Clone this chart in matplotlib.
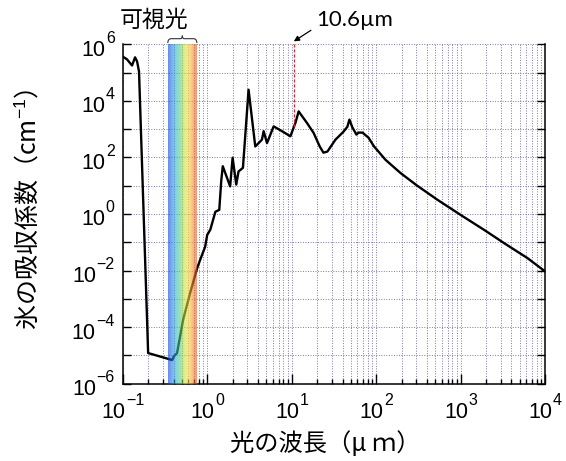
import matplotlib

matplotlib.use("Agg")
import matplotlib.pyplot as plt
import numpy as np
from matplotlib.colors import LinearSegmentedColormap
from matplotlib.path import Path
from matplotlib.patches import PathPatch
from matplotlib.ticker import FixedLocator, NullFormatter
from matplotlib.transforms import offset_copy

# wavelength [um] and absorption coefficient of ice [cm^-1]
WAVELENGTH_UM = [
    0.100, 0.112, 0.129, 0.140, 0.148, 0.156, 0.200, 0.385, 0.405, 0.44,
    0.519, 0.628, 0.760, 0.826, 0.946, 1.00, 1.09, 1.25, 1.39, 1.47,
    1.53, 1.87, 2.00, 2.21, 2.35, 2.65, 3.09, 3.71, 4.45, 4.66,
    5.11, 6.12, 7.70, 9.66, 11.1, 12.1, 15.2, 18.2, 21.5, 23.8,
    26.5, 33.0, 41.0, 45.7, 48.3, 52.4, 58.5, 61.8, 69.0, 81.3,
    94.0, 129, 195, 307, 531, 1000, 1896, 3275, 6194, 10000,
]
ABSORPTION = [
    3.7e5, 3.0e5, 1.8e5, 3.5e5, 2.5e5, 1.1e5, 1.2e-5, 6.8e-6, 9.3e-6, 1.2e-5,
    1.8e-4, 1.6e-3, 1.2e-2, 2.4e-2, 6.9e-2, 0.18, 0.28, 1.2, 1.4, 16,
    49, 9.5, 98, 11, 32, 43, 2.5e4, 245, 427, 851,
    324, 1260, 851, 562, 1700, 4270, 1660, 741, 245, 148,
    162, 427, 813, 1230, 2190, 1150, 646, 759, 759, 501,
    251, 83, 28, 10, 3.2, 0.93, 0.275, 0.093, 0.0275, 0.0093,
]

VISIBLE_RANGE_UM = (0.342, 0.755)
VISIBLE_COLORS = ["#0040d8", "#2a7fe8", "#30bac8", "#58d070", "#c8e040",
                  "#f8d838", "#f89030", "#e85a20"]
CO2_LASER_UM = 10.6

X_EXPONENTS = np.arange(-1, 5)
Y_EXPONENTS = np.arange(-6, 7)
Y_LABELED = Y_EXPONENTS[::2]

GRID_COLOR = "#7878b8"
GRID_STYLE = (0, (1.0, 1.6))
TICK_FONT = "Liberation Sans"
BASE_SIZE = 15.5
EXP_SIZE = 11.5


def _text_width_px(fig, renderer, text, size):
    t = fig.text(0, 0, text, fontsize=size, family=TICK_FONT)
    w = t.get_window_extent(renderer).width
    t.remove()
    return w


def _exp_text(e):
    return str(e).replace("-", "\u2212")


def _draw_log_labels(fig, ax):
    renderer = fig.canvas.get_renderer()
    w_base = _text_width_px(fig, renderer, "10", BASE_SIZE)
    xtr = ax.get_xaxis_transform()
    ytr = ax.get_yaxis_transform()
    for e in X_EXPONENTS:
        et = _exp_text(e)
        w_exp = _text_width_px(fig, renderer, et, EXP_SIZE)
        left = -(w_base + w_exp) / 2.0
        ax.text(10.0 ** e, 0, "10", fontsize=BASE_SIZE, family=TICK_FONT,
                ha="left", va="center", clip_on=False,
                transform=offset_copy(xtr, fig, x=left, y=-28.5, units="dots"))
        ax.text(10.0 ** e, 0, et, fontsize=EXP_SIZE, family=TICK_FONT,
                ha="left", va="center", clip_on=False,
                transform=offset_copy(xtr, fig, x=left + w_base + 0.5, y=-17.0, units="dots"))
    for e in Y_LABELED:
        et = _exp_text(e)
        w_exp = _text_width_px(fig, renderer, et, EXP_SIZE)
        ax.text(0, 10.0 ** e, et, fontsize=EXP_SIZE, family=TICK_FONT,
                ha="right", va="center", clip_on=False,
                transform=offset_copy(ytr, fig, x=-8.0, y=6.0, units="dots"))
        ax.text(0, 10.0 ** e, "10", fontsize=BASE_SIZE, family=TICK_FONT,
                ha="right", va="center", clip_on=False,
                transform=offset_copy(ytr, fig, x=-8.5 - w_exp, y=-6.0, units="dots"))


def main() -> None:
    plt.rcParams["font.family"] = ["Noto Sans CJK JP", "DejaVu Sans"]
    plt.rcParams["mathtext.fontset"] = "custom"
    plt.rcParams["mathtext.rm"] = "Liberation Sans"
    plt.rcParams["mathtext.it"] = "Liberation Sans:italic"

    fig = plt.figure(figsize=(5.66, 4.61), dpi=100)
    ax = fig.add_axes([0.2168, 0.168, 0.7462, 0.7356])

    wl = np.asarray(WAVELENGTH_UM, dtype=float)
    alpha = np.asarray(ABSORPTION, dtype=float)

    ax.plot(wl, alpha, color="black", lw=1.7, zorder=2, solid_joinstyle="round")

    # visible band, drawn over the curve so it shows through
    cmap = LinearSegmentedColormap.from_list("visible", VISIBLE_COLORS)
    lo, hi = np.log10(VISIBLE_RANGE_UM[0]), np.log10(VISIBLE_RANGE_UM[1])
    n_strip = 60
    edges = np.logspace(lo, hi, n_strip + 1)
    for i in range(n_strip):
        ax.axvspan(edges[i], edges[i + 1], color=cmap(i / (n_strip - 1)),
                   alpha=0.6, lw=0, zorder=3)

    ax.set_xscale("log")
    ax.set_yscale("log")
    ax.set_xlim(10.0 ** X_EXPONENTS[0], 10.0 ** X_EXPONENTS[-1])
    ax.set_ylim(10.0 ** Y_EXPONENTS[0], 10.0 ** Y_EXPONENTS[-1])

    # CO2 laser line from curve up to the top of the axes
    y_at_laser = 10 ** np.interp(np.log10(CO2_LASER_UM), np.log10(wl), np.log10(alpha))
    ax.plot([CO2_LASER_UM, CO2_LASER_UM], [y_at_laser, 1e6], color="#d42a2a",
            lw=0.9, ls=(0, (2.5, 1.5)), zorder=4, clip_on=False)
    ax.annotate("10.6µm", xy=(CO2_LASER_UM, 1.009), xycoords=ax.get_xaxis_transform(),
                xytext=(316, 441), textcoords="figure pixels",
                fontsize=16, family=["Lato", "DejaVu Sans"], va="center", ha="left",
                annotation_clip=False,
                arrowprops=dict(arrowstyle="-|>", color="black", lw=0.9, relpos=(0.0, 0.15),
                                mutation_scale=8, shrinkA=2, shrinkB=0))

    # curly brace over the visible band
    trans = ax.get_xaxis_transform()
    mid = np.sqrt(VISIBLE_RANGE_UM[0] * VISIBLE_RANGE_UM[1])
    x0, x1 = VISIBLE_RANGE_UM
    q0 = 10 ** (lo + 0.12 * (hi - lo))
    q1 = 10 ** (hi - 0.12 * (hi - lo))
    m0 = 10 ** (np.log10(mid) - 0.06 * (hi - lo))
    m1 = 10 ** (np.log10(mid) + 0.06 * (hi - lo))
    yb, yh, yt = 1.004, 1.017, 1.026
    verts = [
        (x0, yb), (x0, yh), (q0, yh), (q0, yh),
        (m0, yh), (mid, yh), (mid, yt),
        (mid, yh), (m1, yh), (q1, yh),
        (q1, yh), (x1, yh), (x1, yb),
    ]
    codes = [Path.MOVETO, Path.CURVE3, Path.CURVE3, Path.LINETO,
             Path.LINETO, Path.CURVE3, Path.CURVE3,
             Path.CURVE3, Path.CURVE3, Path.LINETO,
             Path.LINETO, Path.CURVE3, Path.CURVE3]
    ax.add_patch(PathPatch(Path(verts, codes), transform=trans, fill=False,
                           lw=0.8, color="#333333", clip_on=False))
    ax.text(0.232, 1.071, "可視光", transform=trans, fontsize=16.5,
            ha="center", va="center")

    ax.yaxis.set_major_locator(FixedLocator(10.0 ** Y_EXPONENTS))
    ax.yaxis.set_major_formatter(NullFormatter())
    ax.yaxis.set_minor_locator(FixedLocator([]))
    ax.xaxis.set_major_locator(FixedLocator(10.0 ** X_EXPONENTS))
    ax.xaxis.set_major_formatter(NullFormatter())
    minor_x = [m * 10.0 ** e for e in X_EXPONENTS[:-1] for m in range(2, 10)]
    ax.xaxis.set_minor_locator(FixedLocator(minor_x))
    ax.xaxis.set_minor_formatter(NullFormatter())

    ax.tick_params(axis="x", which="major", direction="in", length=7, width=1.0, top=False)
    ax.tick_params(axis="x", which="minor", direction="in", length=3.6, width=1.0, top=False)
    ax.tick_params(axis="y", which="major", direction="in", length=5.8, width=1.0, right=True)

    ax.grid(True, axis="x", which="both", color=GRID_COLOR, lw=0.7, ls=GRID_STYLE, zorder=1)
    ax.grid(True, axis="y", which="major", color=GRID_COLOR, lw=0.7, ls=GRID_STYLE, zorder=1)
    ax.set_axisbelow(True)

    for side in ("left", "right", "bottom"):
        ax.spines[side].set_linewidth(1.1)
    ax.spines["top"].set_visible(False)

    _draw_log_labels(fig, ax)

    ax.set_xlabel("光の波長（μ ｍ）", fontsize=17.5)
    ax.xaxis.set_label_coords(0.48, -0.14)
    ax.set_ylabel("氷の吸収係数（cm$^{-1}$）", fontsize=18)
    ax.yaxis.set_label_coords(-0.19, 0.513)

    fig.savefig("out.png", dpi=100)


if __name__ == "__main__":
    main()
